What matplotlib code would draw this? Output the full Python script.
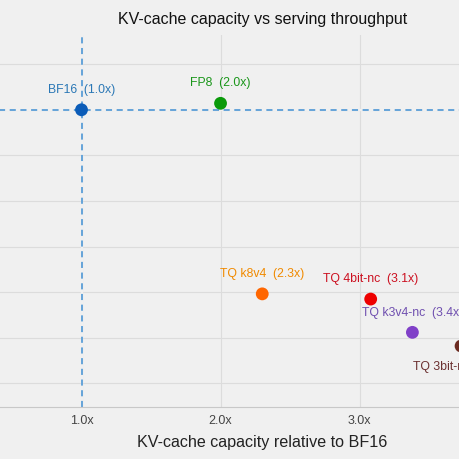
import matplotlib
matplotlib.use('Agg')
import matplotlib.pyplot as plt

# data
names = ['BF16', 'FP8', 'TQ k8v4', 'TQ 4bit-nc', 'TQ k3v4-nc', 'TQ 3bit-nc']
capacity = [1.0, 2.0, 2.30, 3.08, 3.38, 3.73]
throughput = [3500, 3571, 1481, 1424, 1059, 909]
cap_labels = ['1.0x', '2.0x', '2.3x', '3.1x', '3.4x', '3.7x']
label_side = ['above', 'above', 'above', 'above', 'above', 'below']

dot_colors = ['#0b5cb8', '#0a9a0a', '#ff6600', '#ee0000', '#8040c8', '#6b2a20']
text_colors = ['#2a77b5', '#1a961a', '#f08a00', '#cc1020', '#7050b0', '#6b3030']

x_ticks = [1.0, 2.0, 3.0]
x_tick_labels = ['1.0x', '2.0x', '3.0x']
y_ticks = [500, 1000, 1500, 2000, 2500, 3000, 3500, 4000]

bg = '#f0f0f0'
plt.rcParams['font.family'] = ['Liberation Sans', 'DejaVu Sans']

fig = plt.figure(figsize=(4.6, 4.6), dpi=100, facecolor=bg)
# axes runs off the left/right edges like the cropped reference
ax = fig.add_axes([-0.0344, 0.1130, 1.209, 0.8087], facecolor=bg)

ax.set_xlim(0.3, 4.3)
ax.set_ylim(240, 4320)
ax.set_xticks(x_ticks)
ax.set_xticklabels(x_tick_labels)
ax.set_yticks(y_ticks)
ax.set_yticklabels([])
ax.tick_params(axis='both', length=0, labelsize=9, labelcolor='#444444', pad=5)
ax.grid(True, color='#dcdcdc', linewidth=0.8)
ax.set_axisbelow(True)
for side in ['top', 'left', 'right']:
    ax.spines[side].set_visible(False)
ax.spines['bottom'].set_color('#c8c8c8')

# BF16 reference lines (hide the grid line underneath first)
ax.axvline(capacity[0], color=bg, linewidth=1.6, zorder=1.5)
ax.axhline(throughput[0], color=bg, linewidth=1.6, zorder=1.5)
ax.axvline(capacity[0], color='#3f8fd2', linestyle='--', linewidth=1.1, dashes=(4, 3), zorder=2)
ax.axhline(throughput[0], color='#3f8fd2', linestyle='--', linewidth=1.1, dashes=(4, 3), zorder=2)

ax.scatter(capacity, throughput, s=85, c=dot_colors, zorder=3, linewidths=0)

for i in range(len(names)):
    dy = 15 if label_side[i] == 'above' else -14.5
    ax.annotate(names[i] + '  (' + cap_labels[i] + ')', (capacity[i], throughput[i]),
                xytext=(0, dy), textcoords='offset points', ha='center', va='center',
                fontsize=8.8, color=text_colors[i])

ax.set_title('KV-cache capacity vs serving throughput', fontsize=11.5, color='#111111', pad=9)
ax.set_xlabel('KV-cache capacity relative to BF16', fontsize=11.6, color='#222222', labelpad=6)

fig.savefig('out.png', dpi=100, facecolor=bg)
